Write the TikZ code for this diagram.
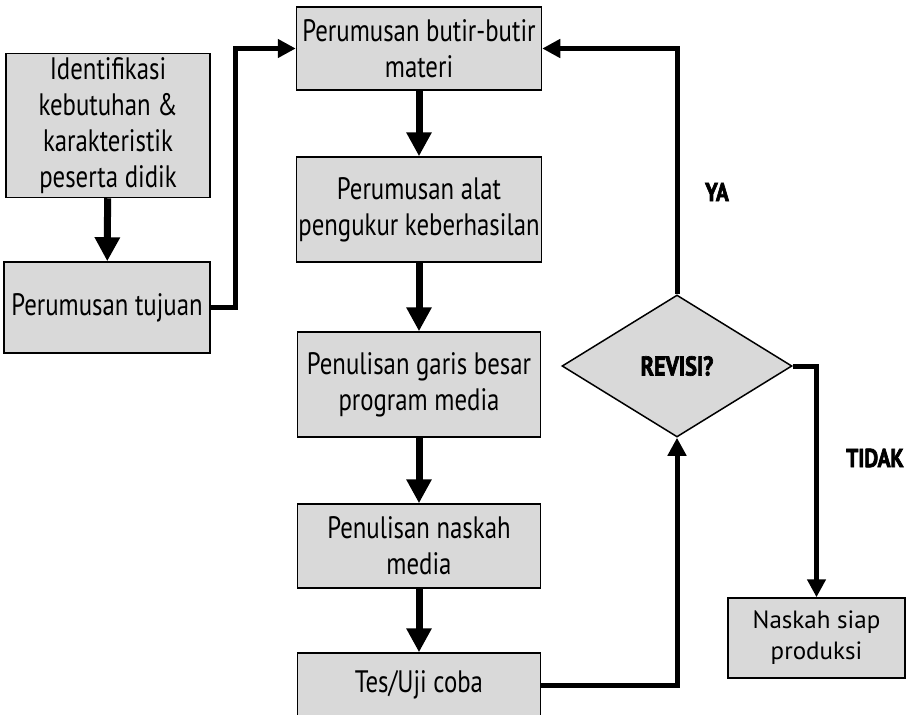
\documentclass[tikz,border=0pt]{standalone}
\usepackage{fontspec}
\setmainfont[FakeStretch=0.8]{PT Sans}
\newfontfamily\naskahfont{PT Sans}
\newfontfamily\labelfont[FakeStretch=0.82,FakeBold=2.5]{PT Sans Bold}
\usetikzlibrary{shapes.geometric, arrows.meta, positioning}

\begin{document}
\begin{tikzpicture}[
    x=1pt, y=1pt,
    box/.style={rectangle, draw, line width=1.5pt, fill=black!15, align=center, inner sep=1pt, font=\fontsize{31}{36}\selectfont},
    decision/.style={diamond, draw, line width=1.5pt, fill=black!15, inner sep=0pt, minimum width=230pt, minimum height=142pt, font=\labelfont\fontsize{27}{30}\selectfont},
    flow/.style={-{Triangle[length=24pt, width=24pt]}, line width=7pt},
    link/.style={-{Triangle[length=18pt, width=18pt]}, line width=5pt},
    tag/.style={font=\labelfont\fontsize{26}{30}\selectfont}
]
\path[use as bounding box, clip] (0,0) rectangle (919,-715);
\node[box, minimum width=204pt, minimum height=144pt] (ident) at (108,-125.5) {Identifikasi\\kebutuhan \&\\karakteristik\\peserta didik};
\node[box, minimum width=206pt, minimum height=91pt] (tujuan) at (107,-307.5) {Perumusan tujuan};
\node[box, minimum width=245pt, minimum height=83pt] (butir) at (419,-48.5) {Perumusan butir-butir\\materi};
\node[box, minimum width=245pt, minimum height=105pt] (alat) at (419,-209.5) {Perumusan alat\\pengukur keberhasilan};
\node[box, minimum width=243pt, minimum height=105pt] (garis) at (419,-384.5) {Penulisan garis besar\\program media};
\node[box, minimum width=243pt, minimum height=84pt] (naskah) at (419,-546) {Penulisan naskah\\media};
\node[box, minimum width=243pt, minimum height=64pt] (uji) at (419,-685) {Tes/Uji coba};
\node[decision] (revisi) at (677,-366) {REVISI?};
\node[box, minimum width=177pt, minimum height=80pt, font=\naskahfont\fontsize{25}{31}\selectfont] (siap) at (816.5,-638) {Naskah siap\\produksi};
\node[tag] (ya) at (717,-192) {YA};
\node[tag] (tidak) at (875,-458) {TIDAK};
% alur utama
\draw[flow] (ident) -- (tujuan);
\draw[flow] (butir) -- (alat);
\draw[flow] (alat) -- (garis);
\draw[flow] (garis) -- (naskah);
\draw[flow] (naskah) -- (uji);
% penghubung
\draw[link] (tujuan.east) -- ++(25,0) |- (butir.west);
\draw[link] (uji.east) -| (revisi.south);
\draw[link] (revisi.north) |- (butir.east);
\draw[link] (revisi.east) -| (siap.north);
\end{tikzpicture}
\end{document}
